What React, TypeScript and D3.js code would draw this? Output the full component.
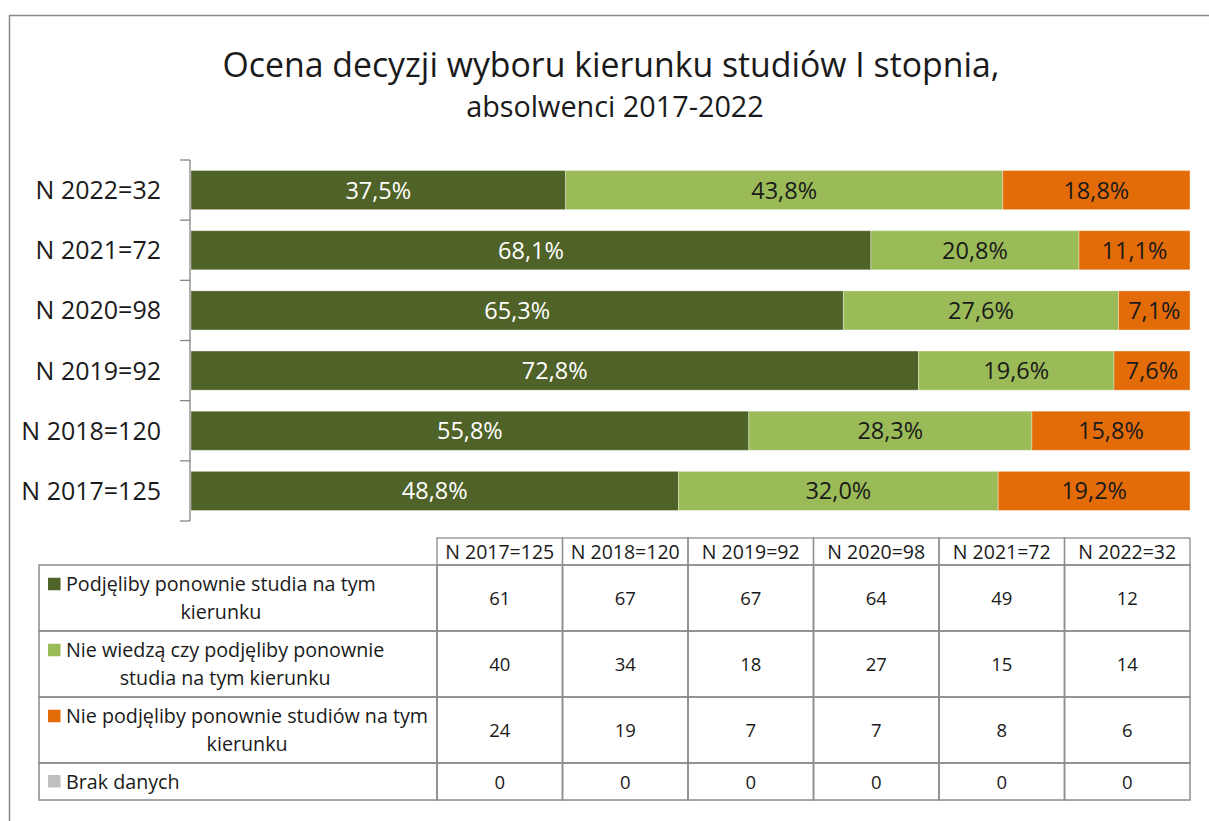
import React, { useEffect, useRef } from "react";
import * as d3 from "d3";

const years = ["N 2017=125", "N 2018=120", "N 2019=92", "N 2020=98", "N 2021=72", "N 2022=32"];
const seriesLines = [
  ["Podjęliby ponownie studia na tym", "kierunku"],
  ["Nie wiedzą czy podjęliby ponownie", "studia na tym kierunku"],
  ["Nie podjęliby ponownie studiów na tym", "kierunku"],
  ["Brak danych"],
];
const yes = [61, 67, 67, 64, 49, 12];
const unsure = [40, 34, 18, 27, 15, 14];
const no = [24, 19, 7, 7, 8, 6];
const missing = [0, 0, 0, 0, 0, 0];
const colors = ["#4F6228", "#9BBB59", "#E36C09", "#BFBFBF"];
const labelColors = ["#ffffff", "#1a1a1a", "#1a1a1a", "#1a1a1a"];

const FONT = "'Open Sans', 'Noto Sans', sans-serif";

export default function App() {
  const ref = useRef<SVGSVGElement>(null);
  useEffect(() => {
    const svg = d3.select(ref.current);
    svg.selectAll("*").remove();
    const W = 1209, H = 821;
    const series = [yes, unsure, no, missing];

    // frame
    svg.append("path").attr("d", `M9.5,${H + 5}V15.5H${W + 5}`).attr("fill", "none").attr("stroke", "#8a8a8a").attr("stroke-width", 1.5);

    // title
    svg.append("text").attr("x", 611).attr("y", 77).attr("text-anchor", "middle")
      .attr("font-family", FONT).attr("font-size", 33.8).attr("fill", "#1a1a1a")
      .text("Ocena decyzji wyboru kierunku studiów I stopnia,");
    svg.append("text").attr("x", 615).attr("y", 117).attr("text-anchor", "middle")
      .attr("font-family", FONT).attr("font-size", 28.8).attr("fill", "#1a1a1a")
      .text("absolwenci 2017-2022");

    const cats = years.slice().reverse();
    const y = d3.scaleBand<string>().domain(cats).range([160, 521]).paddingInner(0.35).paddingOuter(0.175);
    const x = d3.scaleLinear().domain([0, 1]).range([191, 1190]);

    const rows = years.map((yr, i) => {
      const vals = series.map((s) => s[i]);
      const total = d3.sum(vals);
      let acc = 0;
      return {
        yr,
        segs: vals.map((v, k) => {
          const p = v / total;
          const seg = { k, x0: acc, x1: acc + p, p };
          acc += p;
          return seg;
        }),
      };
    });

    const g = svg.append("g");
    rows.forEach((r) => {
      r.segs.forEach((s) => {
        if (s.p <= 0) return;
        g.append("rect").attr("x", x(s.x0)).attr("y", y(r.yr)!).attr("width", x(s.x1) - x(s.x0))
          .attr("height", y.bandwidth()).attr("fill", colors[s.k])
          .attr("stroke", "#ffffff").attr("stroke-opacity", 0.35).attr("stroke-width", 1);
        g.append("text").attr("x", (x(s.x0) + x(s.x1)) / 2).attr("y", y(r.yr)! + y.bandwidth() / 2 + 8.5)
          .attr("text-anchor", "middle").attr("font-family", FONT).attr("font-size", 23.5)
          .attr("fill", labelColors[s.k])
          .text(d3.format(".1f")(s.p * 100).replace(".", ",") + "%");
      });
    });

    // axis
    const step = y.step();
    const ax = svg.append("g").attr("stroke", "#868686").attr("stroke-width", 1.3);
    ax.append("line").attr("x1", 190).attr("x2", 190).attr("y1", 160).attr("y2", 521);
    d3.range(cats.length + 1).forEach((i) => {
      ax.append("line").attr("x1", 180).attr("x2", 190).attr("y1", 160 + i * step).attr("y2", 160 + i * step);
    });
    cats.forEach((c) => {
      svg.append("text").attr("x", 161).attr("y", y(c)! + y.bandwidth() / 2 + 9).attr("text-anchor", "end")
        .attr("font-family", FONT).attr("font-size", 25).attr("fill", "#1a1a1a").text(c);
    });

    // table
    const colX = d3.scaleBand<string>().domain(years).range([437, 1190]);
    const rowEdges = [565, 631, 697, 763, 800];
    const tg = svg.append("g");
    const lineC = "#8c8c8c";
    years.forEach((yr) => {
      tg.append("rect").attr("x", colX(yr)!).attr("y", 538).attr("width", colX.bandwidth()).attr("height", 27)
        .attr("fill", "none").attr("stroke", lineC).attr("stroke-width", 1.3);
      tg.append("text").attr("x", colX(yr)! + colX.bandwidth() / 2).attr("y", 558.5).attr("text-anchor", "middle")
        .attr("font-family", FONT).attr("font-size", 19.5).attr("fill", "#1a1a1a").text(yr);
    });
    series.forEach((s, k) => {
      const y0 = rowEdges[k], y1 = rowEdges[k + 1];
      tg.append("rect").attr("x", 39).attr("y", y0).attr("width", 437 - 39).attr("height", y1 - y0)
        .attr("fill", "none").attr("stroke", lineC).attr("stroke-width", 1.5);
      years.forEach((yr, i) => {
        tg.append("rect").attr("x", colX(yr)!).attr("y", y0).attr("width", colX.bandwidth()).attr("height", y1 - y0)
          .attr("fill", "none").attr("stroke", lineC).attr("stroke-width", 1.5);
        tg.append("text").attr("x", colX(yr)! + colX.bandwidth() / 2).attr("y", (y0 + y1) / 2 + 7)
          .attr("text-anchor", "middle").attr("font-family", FONT).attr("font-size", 18.5).attr("fill", "#1a1a1a")
          .text(String(s[i]));
      });
      const lines = seriesLines[k];
      const n = lines.length;
      const mid = (y0 + y1) / 2;
      const lh = 27.5;
      const firstBase = mid - ((n - 1) * lh) / 2 + 7;
      tg.append("rect").attr("x", 48).attr("y", firstBase - 13.5).attr("width", 12.5).attr("height", 12.5).attr("fill", colors[k]);
      const t1 = tg.append("text").attr("x", 66).attr("y", firstBase).attr("font-family", FONT).attr("font-size", 19.7)
        .attr("fill", "#1a1a1a").text(lines[0]);
      const w1 = (t1.node() as SVGTextElement).getComputedTextLength();
      for (let j = 1; j < n; j++) {
        tg.append("text").attr("x", 66 + w1 / 2).attr("y", firstBase + j * lh).attr("text-anchor", "middle")
          .attr("font-family", FONT).attr("font-size", 19.7).attr("fill", "#1a1a1a").text(lines[j]);
      }
    });
  }, []);
  return (
    <svg ref={ref} width={1209} height={821}
      style={{ display: "block", position: "absolute", left: 0, top: 0, background: "#fff" }} />
  );
}
